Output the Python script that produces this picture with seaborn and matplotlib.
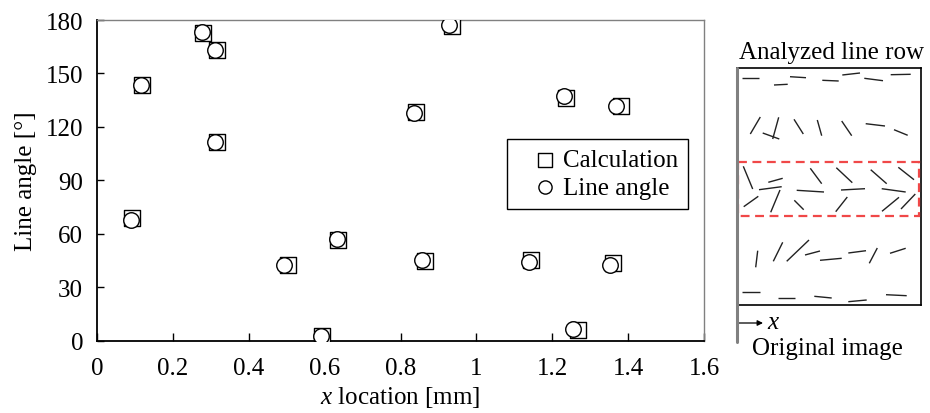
import numpy as np
import pandas as pd
import matplotlib
matplotlib.use('Agg')
import matplotlib.pyplot as plt
from matplotlib.patches import Rectangle
import seaborn as sns

# measured points (x location [mm], angle [deg])
x_calc = [0.092, 0.118, 0.280, 0.317, 0.316, 0.504, 0.594, 0.636, 0.842, 0.865, 0.935, 1.143, 1.236, 1.269, 1.361, 1.381]
y_calc = [68.8, 143.4, 172.6, 163.2, 111.6, 42.6, 2.8, 56.5, 128.1, 44.9, 176.7, 45.3, 136.5, 6.2, 43.4, 131.5]
x_line = [0.090, 0.117, 0.278, 0.311, 0.311, 0.493, 0.590, 0.633, 0.836, 0.856, 0.929, 1.139, 1.232, 1.256, 1.352, 1.368]
y_line = [68.0, 143.5, 173.0, 163.2, 111.6, 42.6, 2.8, 56.9, 128.0, 45.3, 177.0, 44.0, 137.4, 6.6, 42.6, 131.8]

x_ticks = [0, 0.2, 0.4, 0.6, 0.8, 1, 1.2, 1.4, 1.6]
x_tick_labels = ['0', '0.2', '0.4', '0.6', '0.8', '1', '1.2', '1.4', '1.6']
y_ticks = [0, 30, 60, 90, 120, 150, 180]

# line segments in the original image sketch (image pixel units, y down)
seg_x0 = [5.3, 37.0, 53.0, 85.3, 105.3, 127.3, 153.7,
          13.3, 35.7, 25.7, 57.0, 80.3, 104.7, 128.7, 157.0,
          6.3, 31.3, 22.0, 6.7, 33.7, 57.3, 59.7, 73.3, 99.3, 104.0, 98.7, 133.7, 144.7, 161.3, 145.0, 164.0,
          20.7, 36.3, 49.7, 68.0, 83.0, 111.3, 132.3, 153.0,
          5.3, 41.3, 77.3, 111.3, 149.0]
seg_y0 = [10.0, 17.0, 8.7, 12.3, 7.0, 10.3, 6.7,
          66.0, 71.0, 65.0, 51.3, 52.0, 53.0, 55.7, 61.7,
          98.3, 114.3, 121.7, 138.7, 144.3, 132.3, 122.3, 100.3, 99.7, 122.0, 143.7, 101.7, 120.7, 99.3, 143.3, 141.0,
          182.7, 193.3, 193.3, 187.0, 192.3, 185.0, 195.3, 185.3,
          223.7, 230.0, 228.3, 233.7, 226.7]
seg_x1 = [22.0, 50.7, 69.0, 101.7, 123.0, 146.0, 173.7,
          23.3, 41.7, 42.3, 66.3, 84.7, 114.7, 148.0, 170.7,
          15.7, 45.7, 44.7, 21.3, 43.0, 66.7, 87.0, 84.7, 115.3, 128.0, 110.3, 149.7, 168.7, 177.0, 162.0, 178.3,
          18.7, 45.7, 72.0, 83.0, 104.7, 129.0, 140.3, 168.7,
          22.7, 58.0, 94.7, 129.7, 169.7]
seg_y1 = [10.0, 16.3, 9.7, 13.0, 5.0, 12.7, 6.3,
          49.0, 49.3, 71.0, 66.0, 67.7, 67.7, 58.0, 67.3,
          121.0, 110.3, 118.7, 128.3, 122.0, 141.7, 124.0, 115.7, 114.7, 120.7, 129.0, 115.7, 124.0, 111.7, 129.3, 126.0,
          199.3, 174.3, 172.0, 183.0, 190.3, 182.7, 180.0, 180.3,
          223.7, 230.0, 230.0, 232.0, 227.7]

sns.set_style('ticks')
plt.rcParams['font.family'] = ['Liberation Serif', 'DejaVu Serif']
plt.rcParams['mathtext.fontset'] = 'custom'
plt.rcParams['mathtext.rm'] = 'Liberation Serif'
plt.rcParams['mathtext.it'] = 'Liberation Serif:italic'
plt.rcParams['text.color'] = 'black'
plt.rcParams['axes.labelcolor'] = 'black'
plt.rcParams['xtick.color'] = 'black'
plt.rcParams['ytick.color'] = 'black'

df_calc = pd.DataFrame({'x': x_calc, 'angle': y_calc})
df_line = pd.DataFrame({'x': x_line, 'angle': y_line})

fig = plt.figure(figsize=(9.3, 4.14), dpi=100)
ax = fig.add_axes([97 / 930, 1 - 341.7 / 414, 607 / 930, 320.7 / 414])

sns.scatterplot(data=df_calc, x='x', y='angle', marker='s', s=130, color='white',
                edgecolor='black', linewidth=1.0, label='Calculation', ax=ax, zorder=3)
sns.scatterplot(data=df_line, x='x', y='angle', marker='o', s=125, color='white',
                edgecolor='black', linewidth=1.0, label='Line angle', ax=ax, zorder=4)

ax.set_xlim(0, 1.6)
ax.set_ylim(0, 180)
ax.set_xticks(x_ticks)
ax.set_xticklabels(x_tick_labels)
ax.set_yticks(y_ticks)
ax.tick_params(axis='both', direction='in', labelsize=18, color='black', labelcolor='black')
ax.tick_params(axis='x', length=6, width=1, pad=12)
ax.tick_params(axis='y', length=5, width=1, pad=10)
for side in ['left', 'bottom']:
    ax.spines[side].set_color('black')
    ax.spines[side].set_linewidth(1.3)
for side in ['top', 'right']:
    ax.spines[side].set_visible(True)
    ax.spines[side].set_color('#808080')
    ax.spines[side].set_linewidth(1.0)

ax.set_xlabel(r'$x$ location [mm]', fontsize=18, labelpad=3)
ax.set_ylabel('Line angle [°]', fontsize=18, labelpad=6)

leg = ax.legend(loc='upper right', bbox_to_anchor=(688 / 930, 1 - 140 / 414),
                bbox_transform=fig.transFigure, fontsize=18, frameon=True, fancybox=False,
                edgecolor='black', framealpha=1, markerscale=0.85, handletextpad=-0.45,
                handlelength=2.3, borderpad=0.4, labelspacing=0.2, borderaxespad=0)
leg.get_frame().set_linewidth(1.0)
for t in leg.get_texts():
    t.set_color('black')

# sketch of the original image
ax2 = fig.add_axes([737 / 930, 1 - 306 / 414, 184 / 930, 237 / 414])
ax2.set_xlim(0, 184)
ax2.set_ylim(237, 0)
ax2.set_xticks([])
ax2.set_yticks([])
for side in ['top', 'right', 'bottom']:
    ax2.spines[side].set_color('black')
    ax2.spines[side].set_linewidth(1.2)
ax2.spines['left'].set_visible(False)

for a, b, c, d in zip(seg_x0, seg_y0, seg_x1, seg_y1):
    ax2.plot([a, c], [b, d], color='#222222', lw=1.0, solid_capstyle='butt')

ax2.add_patch(Rectangle((1, 94), 181, 54, fill=False, edgecolor='#f04848',
                        lw=1.6, linestyle=(0, (4, 2.5)), zorder=5))
ax2.plot([0, 0], [0, 274], color='#808080', lw=2.2, clip_on=False, zorder=6)
ax2.annotate('', xy=(26, 255), xytext=(0, 255), annotation_clip=False,
             arrowprops=dict(arrowstyle='-|>', color='black', lw=0.9, mutation_scale=8,
                             shrinkA=0, shrinkB=0))
ax2.text(30, 254, r'$x$', fontsize=18, ha='left', va='center', clip_on=False)
ax2.text(94, -16, 'Analyzed line row', fontsize=18, ha='center', va='center', clip_on=False)
ax2.text(90, 280, 'Original image', fontsize=18, ha='center', va='center', clip_on=False)

fig.savefig('out.png', dpi=100)
